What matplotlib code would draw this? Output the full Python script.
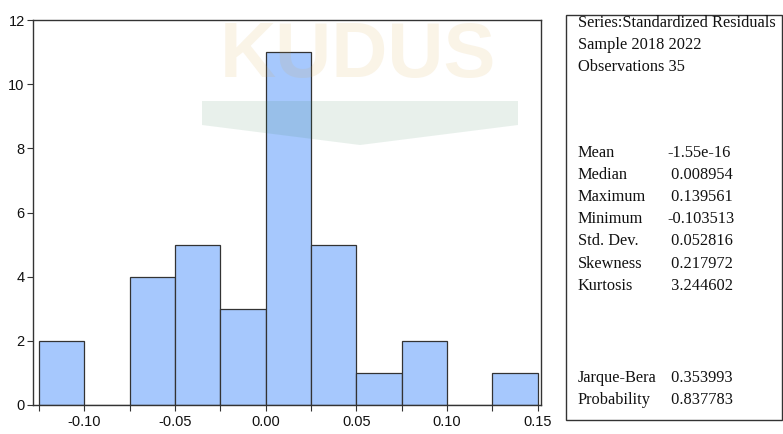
import numpy as np
import matplotlib
matplotlib.use('Agg')
import matplotlib.pyplot as plt
from matplotlib.patches import Rectangle, Polygon

# ---------- data ----------
bin_edges = [-0.125, -0.100, -0.075, -0.050, -0.025, 0.000, 0.025, 0.050, 0.075, 0.100, 0.125, 0.150]
counts = [2, 0, 4, 5, 3, 11, 5, 1, 2, 0, 1]

stat_header = ['Series:Standardized Residuals', 'Sample 2018 2022', 'Observations 35']
stat_names = ['Mean', 'Median', 'Maximum', 'Minimum', 'Std. Dev.', 'Skewness', 'Kurtosis']
stat_values = ['-1.55e-16', ' 0.008954', ' 0.139561', '-0.103513', ' 0.052816', ' 0.217972', ' 3.244602']
test_names = ['Jarque-Bera', 'Probability']
test_values = [' 0.353993', ' 0.837783']

x_ticks = [-0.10, -0.05, 0.00, 0.05, 0.10, 0.15]
y_ticks = [0, 2, 4, 6, 8, 10, 12]

W, H = 783, 434
fig = plt.figure(figsize=(W / 100, H / 100), dpi=100)

def fx(px):
    return px / W

def fy(py):
    return 1 - py / H

# ---------- histogram ----------
ax = fig.add_axes([fx(33), fy(405), (541 - 33) / W, (405 - 20) / H])
left = np.array(bin_edges[:-1])
width = np.diff(bin_edges)
ax.bar(left, counts, width=width, align='edge', color='#a6c8fd',
       edgecolor='#333333', linewidth=0.9)
ax.set_xlim(-0.1283, 0.1518)
ax.set_ylim(0, 12)
ax.set_xticks(x_ticks)
ax.set_xticklabels([f'{v:.2f}' for v in x_ticks])
ax.set_xticks(bin_edges, minor=True)
ax.set_yticks(y_ticks)
ax.tick_params(axis='both', which='major', direction='out', length=4, width=0.8,
               labelsize=10.5, colors='#333333', labelcolor='#111111')
ax.tick_params(axis='x', which='minor', direction='out', length=4, width=0.8, colors='#333333')
ax.tick_params(axis='x', pad=3)
ax.tick_params(axis='y', pad=2)
for tl in ax.get_xticklabels() + ax.get_yticklabels():
    tl.set_family('Liberation Sans')
for s in ax.spines.values():
    s.set_linewidth(1.0)
    s.set_color('#333333')

# faint watermark over the chart
fig.text(fx(358), fy(57), 'KUDUS', ha='center', va='center', fontsize=56,
         fontweight='bold', family='Liberation Sans', color='#d9a640', alpha=0.12,
         zorder=10)
book = Polygon([(fx(202), fy(101)), (fx(518), fy(101)), (fx(518), fy(125)),
                (fx(360), fy(145)), (fx(202), fy(125))],
               closed=True, transform=fig.transFigure, facecolor='#2e7d4f',
               edgecolor='none', alpha=0.11, zorder=10)
fig.patches.append(book)

# ---------- statistics box ----------
fig.patches.append(Rectangle((fx(566), fy(420)), (782 - 566) / W, (420 - 15) / H,
                             transform=fig.transFigure, fill=False,
                             edgecolor='#333333', linewidth=1.0))

serif = dict(family='Liberation Serif', fontsize=11.8, color='#111111', va='center', ha='left')
x_name = fx(578)
x_val = fx(667)
line_h = 22.1
y0 = 23
for i, txt in enumerate(stat_header):
    fig.text(x_name, fy(y0 + i * line_h), txt, **serif)
y1 = 153
for i, (n, v) in enumerate(zip(stat_names, stat_values)):
    yy = fy(y1 + i * line_h)
    fig.text(x_name, yy, n, **serif)
    fig.text(x_val, yy, v, **serif)
y2 = 378
for i, (n, v) in enumerate(zip(test_names, test_values)):
    yy = fy(y2 + i * line_h)
    fig.text(x_name, yy, n, **serif)
    fig.text(x_val, yy, v, **serif)

fig.savefig('out.png', dpi=100)
